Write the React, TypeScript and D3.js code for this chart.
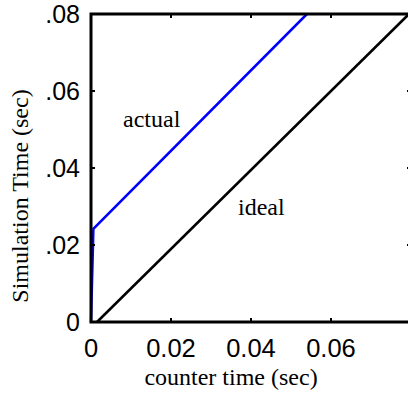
import { useEffect, useRef } from "react";
import * as d3 from "d3";

// tick values and labels
const xTicks = [0, 0.02, 0.04, 0.06];
const xTickLabels = ["0", "0.02", "0.04", "0.06"];
const yTicks = [0, 0.02, 0.04, 0.06, 0.08];
const yTickLabels = ["0", ".02", ".04", ".06", ".08"];

// series (counter time, simulation time)
const idealX = [0.0015, 0.0795];
const idealY = [0, 0.08];
const actualX = [0, 0.0006, 0.054];
const actualY = [0, 0.0242, 0.08];

const W = 420;
const H = 393;
const margin = { top: 14, right: 9, bottom: 71, left: 91 };

export default function App() {
  const svgRef = useRef<SVGSVGElement>(null);

  useEffect(() => {
    if (!svgRef.current) return;
    const svg = d3.select(svgRef.current);
    svg.selectAll("*").remove();

    const innerW = W - margin.left - margin.right;
    const innerH = H - margin.top - margin.bottom;

    const x = d3.scaleLinear().domain([0, 0.08]).range([0, innerW]);
    const y = d3.scaleLinear().domain([0, 0.08]).range([innerH, 0]);

    const g = svg
      .append("g")
      .attr("transform", `translate(${margin.left},${margin.top})`);

    const line = d3
      .line<[number, number]>()
      .x((d) => x(d[0]))
      .y((d) => y(d[1]));

    g.append("path")
      .datum(idealX.map((v, i) => [v, idealY[i]] as [number, number]))
      .attr("d", line)
      .attr("fill", "none")
      .attr("stroke", "#000")
      .attr("stroke-width", 2.5);

    g.append("path")
      .datum(actualX.map((v, i) => [v, actualY[i]] as [number, number]))
      .attr("d", line)
      .attr("fill", "none")
      .attr("stroke", "#0000ff")
      .attr("stroke-width", 2.5);

    // box
    g.append("rect")
      .attr("x", 0)
      .attr("y", 0)
      .attr("width", innerW)
      .attr("height", innerH)
      .attr("fill", "none")
      .attr("stroke", "#000")
      .attr("stroke-width", 3);

    // inward ticks on all four sides
    const tl = 4;
    xTicks.forEach((t) => {
      g.append("line")
        .attr("x1", x(t)).attr("x2", x(t))
        .attr("y1", innerH).attr("y2", innerH - tl)
        .attr("stroke", "#000").attr("stroke-width", 2);
      g.append("line")
        .attr("x1", x(t)).attr("x2", x(t))
        .attr("y1", 0).attr("y2", tl)
        .attr("stroke", "#000").attr("stroke-width", 2);
    });
    yTicks.forEach((t) => {
      g.append("line")
        .attr("x1", 0).attr("x2", tl)
        .attr("y1", y(t)).attr("y2", y(t))
        .attr("stroke", "#000").attr("stroke-width", 2);
      g.append("line")
        .attr("x1", innerW).attr("x2", innerW - tl)
        .attr("y1", y(t)).attr("y2", y(t))
        .attr("stroke", "#000").attr("stroke-width", 2);
    });

    const sans = "'Liberation Sans', Arial, sans-serif";
    const serif = "'Liberation Serif', 'Times New Roman', serif";

    g.selectAll("text.xt")
      .data(xTicks)
      .join("text")
      .attr("class", "xt")
      .attr("x", (d) => x(d))
      .attr("y", innerH + 35)
      .attr("text-anchor", "middle")
      .attr("font-family", sans)
      .attr("font-size", 25.5)
      .text((_d, i) => xTickLabels[i]);

    g.selectAll("text.yt")
      .data(yTicks)
      .join("text")
      .attr("class", "yt")
      .attr("x", -11)
      .attr("y", (d) => y(d) + 9)
      .attr("text-anchor", "end")
      .attr("font-family", sans)
      .attr("font-size", 25)
      .text((_d, i) => yTickLabels[i]);

    svg.append("text")
      .attr("x", 231)
      .attr("y", 385)
      .attr("text-anchor", "middle")
      .attr("font-family", serif)
      .attr("font-size", 24)
      .text("counter time (sec)");

    svg.append("text")
      .attr("transform", `translate(28,196) rotate(-90)`)
      .attr("text-anchor", "middle")
      .attr("font-family", serif)
      .attr("font-size", 24)
      .text("Simulation Time (sec)");

    svg.append("text")
      .attr("x", 123)
      .attr("y", 127)
      .attr("font-family", serif)
      .attr("font-size", 24)
      .text("actual");

    svg.append("text")
      .attr("x", 238)
      .attr("y", 215)
      .attr("font-family", serif)
      .attr("font-size", 24)
      .text("ideal");
  }, []);

  return (
    <svg
      ref={svgRef}
      width={W}
      height={H}
      style={{ position: "absolute", left: 0, top: 0, background: "#fff" }}
    />
  );
}
